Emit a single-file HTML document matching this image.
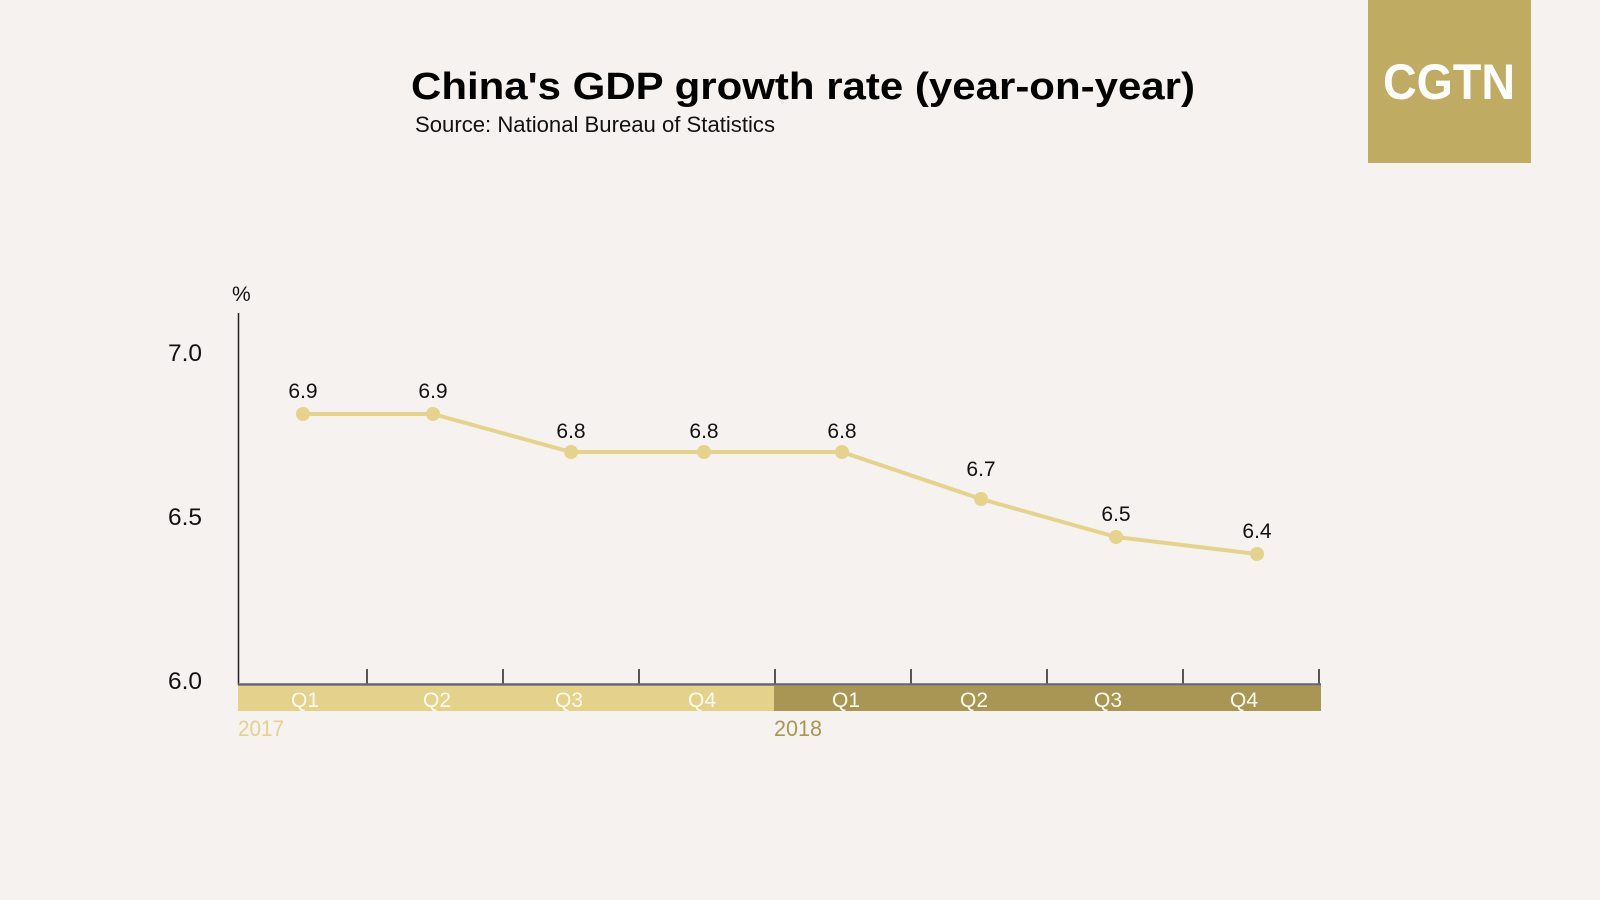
<!DOCTYPE html>
<html>
<head>
<meta charset="utf-8">
<style>
  html, body { margin:0; padding:0; background:#f5f2ef; }
  body { width:1600px; height:900px; overflow:hidden; }
  svg { display:block; }
  text { font-family: "Liberation Sans", "DejaVu Sans", sans-serif; }
</style>
</head>
<body>
<svg width="1600" height="900" viewBox="0 0 1600 900" xmlns="http://www.w3.org/2000/svg">
  <rect x="0" y="0" width="1600" height="900" fill="#f5f2ef"/>

  <!-- CGTN logo -->
  <rect x="1368" y="0" width="163" height="163" fill="#bfab62"/>
  <text x="1383" y="99" font-size="50" font-weight="bold" fill="#ffffff" textLength="132" lengthAdjust="spacingAndGlyphs">CGTN</text>

  <!-- Title -->
  <text x="411" y="99" font-size="38" font-weight="bold" fill="#000" textLength="784" lengthAdjust="spacingAndGlyphs">China's GDP growth rate (year-on-year)</text>
  <text x="415" y="132" font-size="22" fill="#111" textLength="360" lengthAdjust="spacingAndGlyphs">Source: National Bureau of Statistics</text>

  <!-- Y axis -->
  <text x="232" y="301" font-size="21" fill="#111">%</text>
  <line x1="238.5" y1="313" x2="238.5" y2="685" stroke="#222" stroke-width="1.5"/>
  <text x="168" y="361" font-size="24" fill="#111" textLength="34" lengthAdjust="spacingAndGlyphs">7.0</text>
  <text x="168" y="525" font-size="24" fill="#111" textLength="34" lengthAdjust="spacingAndGlyphs">6.5</text>
  <text x="168" y="689" font-size="24" fill="#111" textLength="34" lengthAdjust="spacingAndGlyphs">6.0</text>

  <!-- ticks -->
  <g stroke="#222" stroke-width="1.5">
    <line x1="367" y1="669" x2="367" y2="684"/>
    <line x1="503" y1="669" x2="503" y2="684"/>
    <line x1="639" y1="669" x2="639" y2="684"/>
    <line x1="775" y1="669" x2="775" y2="684"/>
    <line x1="911" y1="669" x2="911" y2="684"/>
    <line x1="1047" y1="669" x2="1047" y2="684"/>
    <line x1="1183" y1="669" x2="1183" y2="684"/>
    <line x1="1319" y1="669" x2="1319" y2="684"/>
  </g>

  <!-- X axis line -->
  <line x1="238" y1="684.5" x2="1321" y2="684.5" stroke="#666" stroke-width="2.5"/>

  <!-- Quarter bands -->
  <rect x="238" y="686" width="536" height="25" fill="#e4d28b"/>
  <rect x="774" y="686" width="547" height="25" fill="#a99655"/>
  <g font-size="21" fill="#fdfaf0" text-anchor="middle">
    <text x="305" y="707">Q1</text>
    <text x="437" y="707">Q2</text>
    <text x="569" y="707">Q3</text>
    <text x="702" y="707">Q4</text>
    <text x="846" y="707">Q1</text>
    <text x="974" y="707">Q2</text>
    <text x="1108" y="707">Q3</text>
    <text x="1244" y="707">Q4</text>
  </g>
  <text x="238" y="736" font-size="22" fill="#e3d18c" textLength="46" lengthAdjust="spacingAndGlyphs">2017</text>
  <text x="774" y="736" font-size="22" fill="#a99655" textLength="48" lengthAdjust="spacingAndGlyphs">2018</text>

  <!-- Series -->
  <polyline fill="none" stroke="#e5d38c" stroke-width="4" stroke-linejoin="round"
    points="303,414 433,414 571,452 704,452 842,452 981,499 1116,537 1257,554"/>
  <g fill="#e5d38c">
    <circle cx="303" cy="414" r="7"/>
    <circle cx="433" cy="414" r="7"/>
    <circle cx="571" cy="452" r="7"/>
    <circle cx="704" cy="452" r="7"/>
    <circle cx="842" cy="452" r="7"/>
    <circle cx="981" cy="499" r="7"/>
    <circle cx="1116" cy="537" r="7"/>
    <circle cx="1257" cy="554" r="7"/>
  </g>
  <g font-size="21" fill="#111" text-anchor="middle">
    <text x="303" y="398">6.9</text>
    <text x="433" y="398">6.9</text>
    <text x="571" y="438">6.8</text>
    <text x="704" y="438">6.8</text>
    <text x="842" y="438">6.8</text>
    <text x="981" y="476">6.7</text>
    <text x="1116" y="521">6.5</text>
    <text x="1257" y="538">6.4</text>
  </g>
</svg>
</body>
</html>
